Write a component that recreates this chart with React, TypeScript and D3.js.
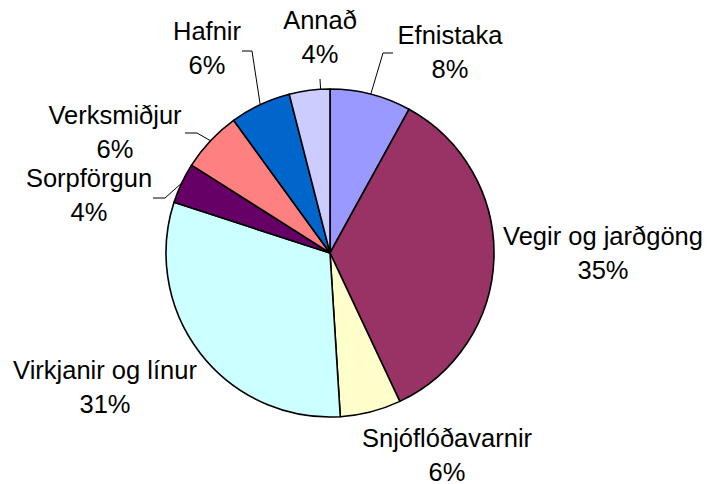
import * as d3 from 'd3';

const categories = ['Efnistaka', 'Vegir og jarðgöng', 'Snjóflóðavarnir', 'Virkjanir og línur', 'Sorpförgun', 'Verksmiðjur', 'Hafnir', 'Annað'];
const shares = [8, 35, 6, 31, 4, 6, 6, 4];
const colors = ['#9999ff', '#993366', '#ffffcc', '#ccffff', '#660066', '#ff8080', '#0066cc', '#ccccff'];

// label anchor (centre x, first baseline) and leader line bend/end, per slice
const labelPos: [number, number][] = [
  [450, 44], [603, 245], [447, 447], [105, 379], [89, 187], [115, 124], [207, 40], [320, 29],
];
const leaders: ([number, number][] | null)[] = [
  [[383, 53], [393, 53]], null, null, null,
  [[165, 198], [153, 198]], [[197, 133], [185, 133]], [[252, 51], [242, 51]], [[320, 79]],
];

const W = 709;
const H = 484;
const cx = 330;
const cy = 253;
const R = 164;

export default function App() {
  const pie = d3.pie<number>().value(d => d).sort(null);
  const arcs = pie(shares);
  const arc = d3.arc<d3.PieArcDatum<number>>().innerRadius(0).outerRadius(R);
  const line = d3.line();

  return (
    <svg width={W} height={H} style={{ position: 'fixed', left: 0, top: 0, background: '#fff' }}
      fontFamily="'Liberation Sans', Arial, sans-serif">
      <g transform={`translate(${cx},${cy})`}>
        {arcs.map((a, i) => (
          <path key={i} d={arc(a) ?? ''} fill={colors[i]} stroke="#000" strokeWidth={1.6} strokeLinejoin="round" />
        ))}
      </g>
      {arcs.map((a, i) => {
        const pts = leaders[i];
        if (!pts) return null;
        // single-point leaders drop straight onto the rim, others start at slice middle
        const ang = pts.length === 1
          ? Math.atan2(pts[0][0] - cx, cy - pts[0][1])
          : (a.startAngle + a.endAngle) / 2;
        const start: [number, number] = [cx + R * Math.sin(ang), cy - R * Math.cos(ang)];
        return <path key={i} d={line([start, ...pts]) ?? ''} fill="none" stroke="#000" strokeWidth={1} />;
      })}
      {categories.map((c, i) => (
        <text key={c} x={labelPos[i][0]} y={labelPos[i][1]} textAnchor="middle" fontSize={25.5} fill="#000">
          <tspan x={labelPos[i][0]}>{c}</tspan>
          <tspan x={labelPos[i][0]} dy={33.5}>{shares[i]}%</tspan>
        </text>
      ))}
    </svg>
  );
}
